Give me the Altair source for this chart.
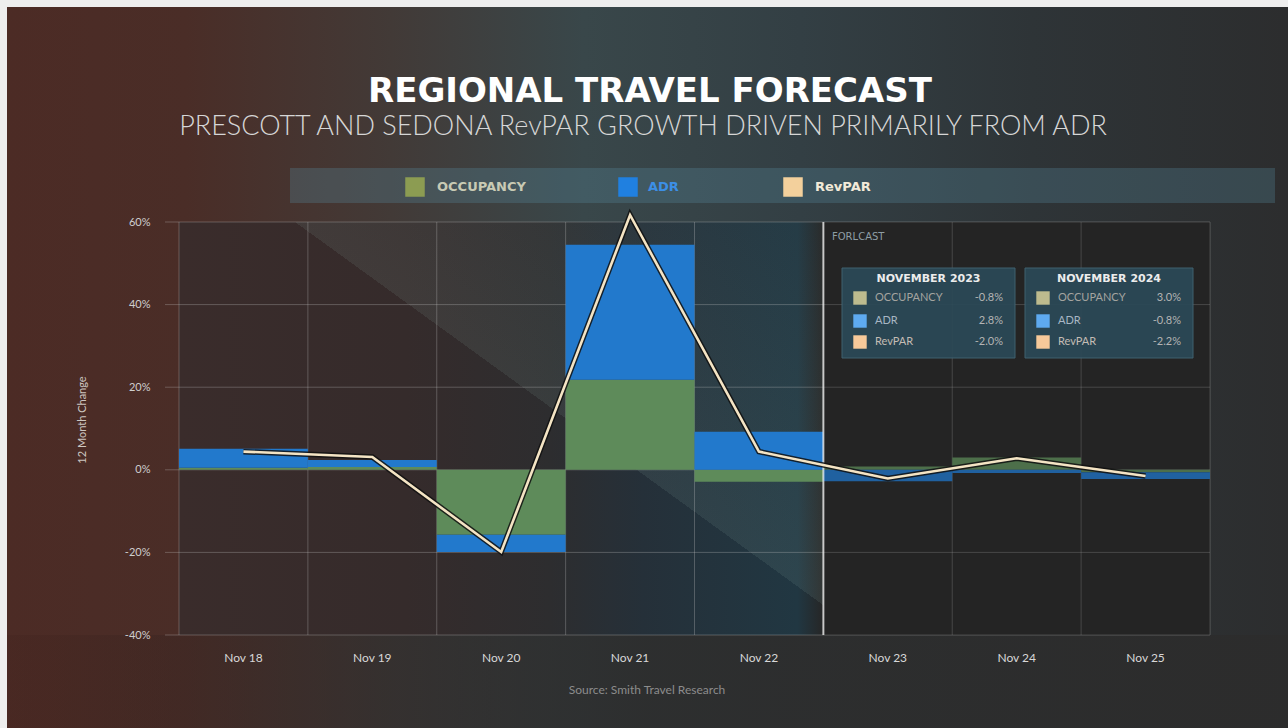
import altair as alt
import pandas as pd

# ---------------- data ----------------
periods = ["Nov 18", "Nov 19", "Nov 20", "Nov 21", "Nov 22", "Nov 23", "Nov 24", "Nov 25"]
forecast_periods = ["Nov 23", "Nov 24", "Nov 25"]
series = ["OCCUPANCY", "ADR", "RevPAR"]
occupancy = [0.5, 0.7, -15.7, 21.8, -2.9, 0.8, 3.0, -0.6]
adr = [4.6, 1.7, -4.2, 32.7, 9.2, -2.8, -0.8, -1.6]
revpar = [4.4, 3.1, -19.9, 61.7, 4.4, -2.1, 2.8, -1.5]
y_ticks = [-40, -20, 0, 20, 40, 60]
box_titles = ["NOVEMBER 2023", "NOVEMBER 2024"]
box_labels = ["OCCUPANCY", "ADR", "RevPAR"]
box_values = [["-0.8%", "2.8%", "-2.0%"], ["3.0%", "-0.8%", "-2.2%"]]
title = "REGIONAL TRAVEL FORECAST"
subtitle = "PRESCOTT AND SEDONA RevPAR GROWTH DRIVEN PRIMARILY FROM ADR"
y_title = "12 Month Change"
source = "Source: Smith Travel Research"
forecast_label = "FORLCAST"

# ---------------- tables ----------------
bars_df = pd.DataFrame(
    [{"period": p, "series": "OCCUPANCY", "value": o, "ord": 0} for p, o in zip(periods, occupancy)]
    + [{"period": p, "series": "ADR", "value": a, "ord": 1} for p, a in zip(periods, adr)]
)
line_df = pd.DataFrame({"period": periods, "revpar": revpar})
grid_df = pd.DataFrame({"v": y_ticks})
period_df = pd.DataFrame({"period": periods})
fc_df = pd.DataFrame({"period": forecast_periods})
one = pd.DataFrame({"k": [0]})

# ---------------- layout / style ----------------
L, T = 179, 222
W, H = 1031, 413
CW, CH = 1288, 728
FONT = "Lato"

bar_colors = ["#5e8b5a", "#2279cc"]
legend_colors = ["#8c9c52", "#2080e0", "#f3d09c"]
legend_text_colors = ["#c8cab4", "#3c8fe6", "#f2ead8"]
box_swatch = ["#bdbb8e", "#5eaaf0", "#f6c99a"]
box_text = ["#a4a4a0", "#a8b6c4", "#c4bcb4"]

xscale = alt.Scale(domain=periods, paddingInner=0, paddingOuter=0)
xaxis = alt.Axis(title=None, grid=False, domain=False, ticks=False, labelAngle=0, zindex=1,
                 labelPadding=17, labelFontSize=12, labelColor="#d8d8d8", labelFont=FONT)
yscale = alt.Scale(domain=[-40, 60], nice=False, zero=False)
yaxis = alt.Axis(title=None, values=y_ticks, labelExpr="datum.value + '%'", grid=False, zindex=1,
                 domain=False, ticks=False, labelPadding=29, labelFontSize=11,
                 labelColor="#cfcfcf", labelFont=FONT)


def X(**kw):
    return alt.X("period:N", sort=periods, scale=xscale, axis=xaxis, **kw)


def grad(stops, x1=0, y1=0, x2=1, y2=0):
    return alt.LinearGradient(gradient="linear",
                              stops=[alt.GradientStop(color=c, offset=o) for o, c in stops],
                              x1=x1, y1=y1, x2=x2, y2=y2)


def box(x0, x1, y0, y1, color, **kw):
    return alt.Chart(one).mark_rect(color=color, **kw).encode(
        x=alt.value(x0), x2=alt.value(x1), y=alt.value(y0), y2=alt.value(y1))


def label(text, x, y, **kw):
    return alt.Chart(one).mark_text(**kw).encode(
        text=alt.value(text), x=alt.value(x), y=alt.value(y))


layers = []

# canvas background
layers.append(box(7 - L, CW - L, 7 - T, CH - T,
                  grad([(0, "#4c2b25"), (0.14, "#4a2d27"), (0.3, "#423a37"), (0.45, "#39474a"),
                        (0.62, "#333f44"), (0.8, "#2e3437"), (1, "#2c2d2e")])))
# darker strip under plot
layers.append(box(7 - L, CW - L, H, CH - T,
                  grad([(0, "rgba(60,30,25,0.2)"), (0.3, "rgba(44,42,42,0.6)"),
                        (0.5, "rgba(44,44,44,0.9)"), (1, "rgba(44,44,44,0.9)")])))
# legend band
layers.append(box(111, 1096, -54, -19, "rgba(90,145,165,0.28)"))

# plot background
layers.append(box(0, W, 0, H,
                  grad([(0, "#3a2c2b"), (0.22, "#352b2b"), (0.36, "#2d2d2f"), (0.45, "#253039"),
                        (0.6, "#213742"), (0.625, "#262626"), (1, "#262626")])))
# diagonal light overlay
layers.append(box(116, 651, 0, 388,
                  grad([(0, "rgba(0,0,0,0)"), (0.5, "rgba(0,0,0,0)"),
                        (0.5, "rgba(150,185,175,0.11)"), (1, "rgba(150,185,175,0.03)")],
                       x1=0, y1=1, x2=1, y2=0)))
# forecast background
layers.append(alt.Chart(fc_df).mark_rect(color="#272727").encode(
    x=X(), y=alt.value(0), y2=alt.value(H)))

# grid
layers.append(alt.Chart(grid_df).mark_rule(color="#c8c8c8", opacity=0.3, strokeWidth=1).encode(
    y=alt.Y("v:Q", scale=yscale, axis=yaxis), x=alt.value(-14), x2=alt.value(W)))
layers.append(alt.Chart(period_df).mark_rule(color="#c8c8c8", opacity=0.3, strokeWidth=1).encode(
    x=X(bandPosition=0), y=alt.value(0), y2=alt.value(H)))
layers.append(alt.Chart(one).mark_rule(color="#c8c8c8", opacity=0.3, strokeWidth=1).encode(
    x=alt.value(W), y=alt.value(0), y2=alt.value(H)))

# bars
layers.append(alt.Chart(bars_df).mark_bar(strokeWidth=0).encode(
    x=X(),
    y=alt.Y("value:Q", stack="zero", scale=yscale, axis=yaxis),
    color=alt.Color("series:N", scale=alt.Scale(domain=["OCCUPANCY", "ADR"], range=bar_colors), legend=None),
    order=alt.Order("ord:Q"),
))
# dim the forecast bars slightly
layers.append(alt.Chart(fc_df).mark_rect(color="#1c1c1c", opacity=0.25).encode(
    x=X(), y=alt.value(0), y2=alt.value(H)))

# forecast divider
layers.append(alt.Chart(fc_df.head(1)).mark_rule(color="#ffffff", opacity=0.7, strokeWidth=2).encode(
    x=X(bandPosition=0), y=alt.value(0), y2=alt.value(H)))

# RevPAR line
layers.append(alt.Chart(line_df).mark_line(color="#111111", strokeWidth=5.5, opacity=0.85,
                                           strokeJoin="miter", strokeMiterLimit=10).encode(
    x=X(), y=alt.Y("revpar:Q", scale=yscale, axis=yaxis)))
layers.append(alt.Chart(line_df).mark_line(color="#f4e4c4", strokeWidth=2.6,
                                           strokeJoin="miter", strokeMiterLimit=10).encode(
    x=X(), y=alt.Y("revpar:Q", scale=yscale, axis=yaxis)))

# legend
leg_sw_x = [236, 449, 614]
leg_tx_x = [258, 469, 636]
for i, s in enumerate(series):
    layers.append(alt.Chart(pd.DataFrame({"series": [s]})).mark_square(
        size=380, color=legend_colors[i], opacity=1).encode(x=alt.value(leg_sw_x[i]), y=alt.value(-35)))
    layers.append(alt.Chart(pd.DataFrame({"series": [s]})).mark_text(
        align="left", baseline="middle", fontSize=13, fontWeight="bold", font="DejaVu Sans",
        color=legend_text_colors[i]).encode(text="series:N", x=alt.value(leg_tx_x[i]), y=alt.value(-35)))

# forecast label
layers.append(label(forecast_label, 653, 15, align="left", baseline="middle", fontSize=10,
                    font="DejaVu Sans", color="#8e9ea4"))

# forecast boxes
box_x = [(663, 836), (846, 1014)]
row_y = [76, 99, 120]
for j in range(2):
    x0, x1 = box_x[j]
    layers.append(box(x0, x1, 46, 136, "#2b4957", opacity=0.92, stroke="#436776", strokeWidth=1))
    layers.append(label(box_titles[j], (x0 + x1) / 2, 57, align="center", baseline="middle",
                        fontSize=11, fontWeight="bold", font="DejaVu Sans", color="#ececec"))
    for r in range(3):
        layers.append(alt.Chart(one).mark_square(size=180, color=box_swatch[r], opacity=1).encode(
            x=alt.value(x0 + 18), y=alt.value(row_y[r])))
        layers.append(label(box_labels[r], x0 + 33, row_y[r], align="left", baseline="middle",
                            fontSize=11, font=FONT, color=box_text[r]))
        layers.append(label(box_values[j][r], x1 - 12, row_y[r], align="right", baseline="middle",
                            fontSize=11, font=FONT, color="#b4b4b4"))

# titles and notes
layers.append(label(title, 471, -120, align="center", baseline="alphabetic", fontSize=34,
                    fontWeight="bold", font="DejaVu Sans", color="#ffffff"))
layers.append(label(subtitle, 464, -87, align="center", baseline="alphabetic", fontSize=27,
                    fontWeight=300, font=FONT, color="#d6d6d6"))
layers.append(label(y_title, -96, 198, align="center", baseline="middle", angle=270, fontSize=11,
                    font=FONT, color="#cdc6c0"))
layers.append(label(source, 468, 468, align="center", baseline="middle", fontSize=12,
                    font=FONT, color="#8c8c8c"))

chart = alt.layer(*layers).properties(
    width=W, height=H,
    autosize=alt.AutoSizeParams(type="none"),
    padding={"left": L, "top": T, "right": CW - L - W, "bottom": CH - T - H},
    background="#eeeeee",
).configure_view(strokeWidth=0)

chart.save("out.html", embed_options={"renderer": "svg", "actions": False})
